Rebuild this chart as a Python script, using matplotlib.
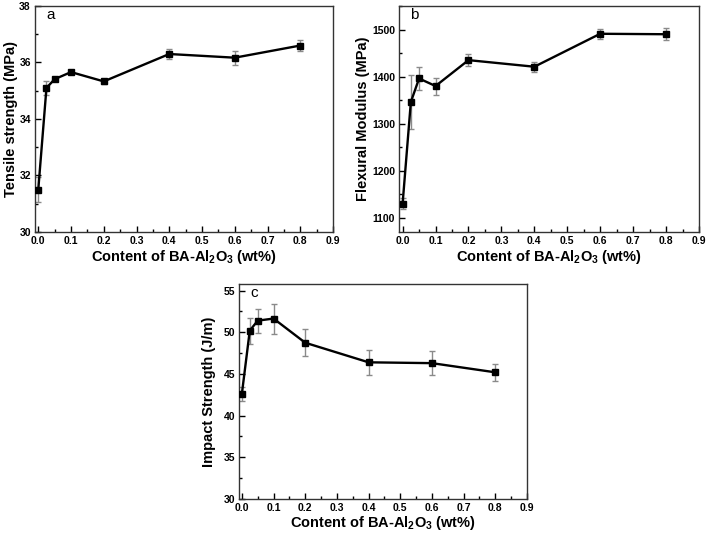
import matplotlib
matplotlib.use("Agg")
import matplotlib.pyplot as plt
from matplotlib.ticker import MultipleLocator

plt.rcParams['font.family'] = ['Liberation Sans', 'DejaVu Sans']
plt.rcParams['font.weight'] = 'bold'
plt.rcParams['mathtext.fontset'] = 'custom'
plt.rcParams['mathtext.rm'] = 'Liberation Sans:bold'
plt.rcParams['mathtext.bf'] = 'Liberation Sans:bold'
plt.rcParams['mathtext.default'] = 'bf'

content = [0.0, 0.025, 0.05, 0.1, 0.2, 0.4, 0.6, 0.8]

tensile = [31.5, 35.1, 35.41, 35.66, 35.33, 36.3, 36.17, 36.6]
tensile_err = [0.45, 0.26, 0.08, 0.07, 0.1, 0.19, 0.25, 0.2]

flexural = [1130, 1346, 1396, 1380, 1435, 1421, 1491, 1490]
flexural_err = [12, 58, 25, 18, 12, 11, 11, 13]

impact = [42.6, 50.2, 51.4, 51.65, 48.75, 46.4, 46.3, 45.2]
impact_err = [0.8, 1.55, 1.45, 1.8, 1.65, 1.5, 1.4, 1.0]

xlabel = 'Content of BA-Al$_{2}$O$_{3}$ (wt%)'

fig = plt.figure(figsize=(7.07, 5.35), dpi=100)

panels = [
    dict(rect=[0.0495, 0.5664, 0.4215, 0.4224], y=tensile, e=tensile_err,
         ylim=(30, 38), major=2, minor=1, ylabel='Tensile strength (MPa)',
         letter='a', xlim=(-0.01, 0.9), ylx=-0.082),
    dict(rect=[0.5648, 0.5664, 0.4239, 0.4224], y=flexural, e=flexural_err,
         ylim=(1070, 1550), major=100, minor=50, ylabel='Flexural Modulus (MPa)',
         letter='b', xlim=(-0.01, 0.9), ylx=-0.12),
    dict(rect=[0.3385, 0.0673, 0.4069, 0.4019], y=impact, e=impact_err,
         ylim=(30, 55.8), major=5, minor=2.5, ylabel='Impact Strength (J/m)',
         letter='c', xlim=(-0.008, 0.9), ylx=-0.105),
]

for p in panels:
    ax = fig.add_axes(p['rect'])
    ax.errorbar(content, p['y'], yerr=p['e'], fmt='none', ecolor='#8a8a8a',
                elinewidth=1.0, capsize=2.2, capthick=1.0, zorder=2)
    ax.plot(content, p['y'], color='black', lw=1.7, marker='s', ms=5,
            mfc='black', mec='black', zorder=3)
    ax.set_xlim(*p['xlim'])
    ax.set_ylim(*p['ylim'])
    ax.xaxis.set_major_locator(MultipleLocator(0.1))
    ax.xaxis.set_minor_locator(MultipleLocator(0.05))
    ax.yaxis.set_major_locator(MultipleLocator(p['major']))
    ax.yaxis.set_minor_locator(MultipleLocator(p['minor']))
    ax.xaxis.set_major_formatter(matplotlib.ticker.FormatStrFormatter('%.1f'))
    ax.tick_params(which='both', direction='in', top=False, right=False,
                   labelsize=7.5, width=1.0, pad=3)
    ax.tick_params(which='major', length=4)
    ax.tick_params(which='minor', length=2)
    for lab in ax.get_xticklabels() + ax.get_yticklabels():
        lab.set_fontweight('bold')
    for s in ax.spines.values():
        s.set_linewidth(1.0)
        s.set_color('#333333')
    ax.set_xlabel(xlabel, fontsize=10.5, fontweight='bold')
    ax.set_ylabel(p['ylabel'], fontsize=10.5, fontweight='bold')
    ax.xaxis.set_label_coords(0.5, -0.11)
    ax.yaxis.set_label_coords(p['ylx'], 0.5)
    ax.get_xaxis().label.set_va('center')
    ax.get_yaxis().label.set_va('center')
    ax.text(0.037, 0.96, p['letter'], transform=ax.transAxes, fontsize=11,
            fontweight='normal', va='center', ha='left')

fig.savefig('out.png', dpi=100)
